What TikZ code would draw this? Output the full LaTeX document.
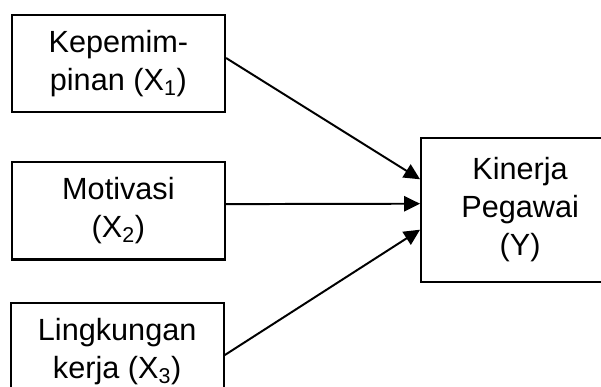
\documentclass[tikz,border=0pt]{standalone}
\usepackage{fontspec}
\setmainfont{Liberation Sans}
\usepackage{tikz}
\usetikzlibrary{arrows.meta,positioning}

\begin{document}
\begin{tikzpicture}[
  node distance=1.2cm and 4.85cm,
  every node/.style={align=center, font=\fontsize{21.8}{27}\selectfont},
  varbox/.style={rectangle, draw=black, line width=1.5pt, minimum width=5.33cm, minimum height=2.43cm, inner sep=0pt},
  result/.style={rectangle, draw=black, line width=1.5pt, minimum width=4.95cm, minimum height=3.6cm, inner sep=0pt},
  arrow/.style={-{Triangle[length=4mm, width=3.8mm]}, line width=1.4pt}
]
\useasboundingbox (0,0) rectangle (15.025,-9.675);

% --- INDEPENDENT VARIABLES ---
\node[varbox] (lead) at (2.96,-1.59) {Kepemim-\\pinan (X\textsubscript{1})};

\node[varbox, below=1.2cm of lead] (motiv) {Motivasi\\(X\textsubscript{2})};

\node[varbox, below=1.03cm of motiv, xshift=-0.03cm] (env) {Lingkungan\\kerja (X\textsubscript{3})};

% --- DEPENDENT VARIABLE ---
\node[result, right=4.85cm of motiv, yshift=0.03cm] (perf) {Kinerja\\Pegawai\\(Y)};

% --- CONNECTORS ---
\draw[arrow] ([yshift=0.14cm]lead.east) -- ([yshift=0.76cm]perf.west);
\draw[arrow] ([yshift=0.17cm]motiv.east) -- ([yshift=0.15cm]perf.west);
\draw[arrow] ([yshift=-0.09cm]env.east) -- ([yshift=-0.5cm]perf.west);

\end{tikzpicture}
\end{document}
